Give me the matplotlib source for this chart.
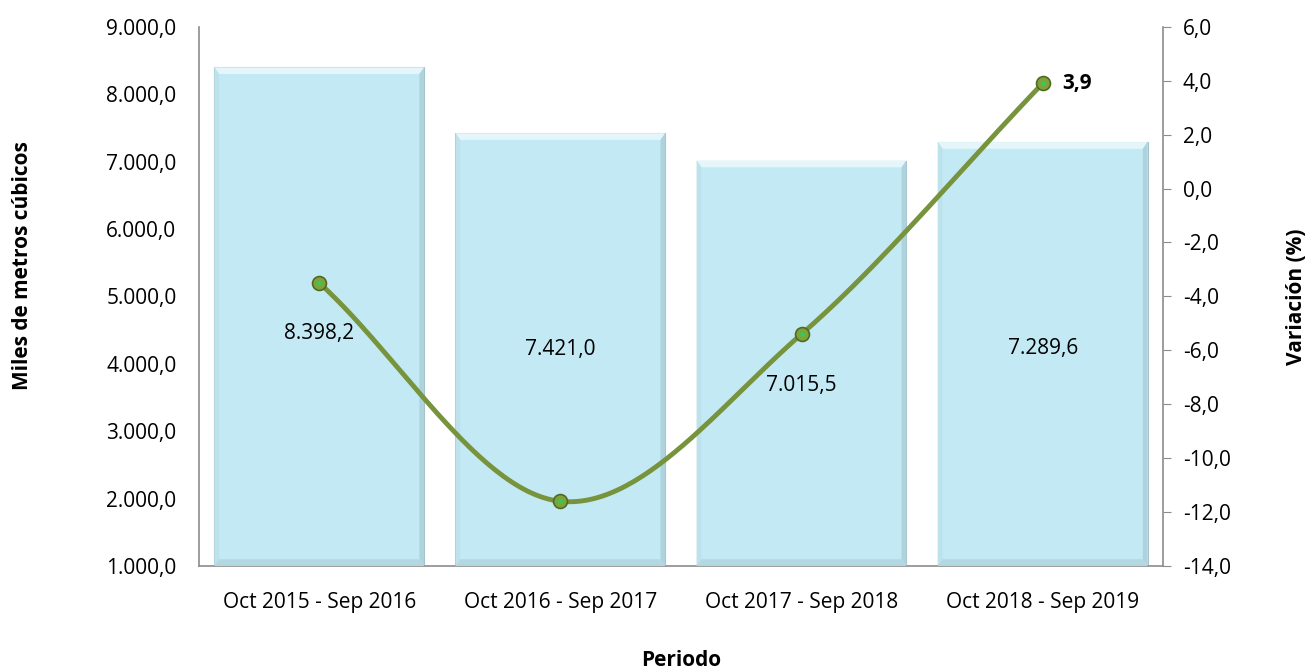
import matplotlib.pyplot as plt
import numpy as np
from matplotlib.patches import Polygon
from matplotlib.ticker import FuncFormatter

periodos = ['Oct 2015 - Sep 2016', 'Oct 2016 - Sep 2017',
            'Oct 2017 - Sep 2018', 'Oct 2018 - Sep 2019']
volumen = [8398.2, 7421.0, 7015.5, 7289.6]
variacion = [-3.5, -11.6, -5.4, 3.9]
etiquetas_vol = ['8.398,2', '7.421,0', '7.015,5', '7.289,6']
etiquetas_var = ['', '', '', '3,9']

plt.rcParams['font.family'] = ['Open Sans', 'DejaVu Sans']
GRIS = '#8c8c8c'
AZUL = '#C3EAF4'
VERDE = '#77933C'
FS = 15


def fmt_es(v, pos=None):
    s = f'{v:,.1f}'
    return s.replace(',', 'X').replace('.', ',').replace('X', '.')


def catmull_rom(x, y, n=60):
    # smooth curve through the points, like Excel's smoothed line
    x = np.asarray(x, float)
    y = np.asarray(y, float)
    px = np.concatenate([[2 * x[0] - x[1]], x, [2 * x[-1] - x[-2]]])
    py = np.concatenate([[2 * y[0] - y[1]], y, [2 * y[-1] - y[-2]]])
    ox, oy = [], []
    for i in range(1, len(px) - 2):
        t = np.linspace(0, 1, n)
        for p, out in ((px, ox), (py, oy)):
            p0, p1, p2, p3 = p[i - 1], p[i], p[i + 1], p[i + 2]
            out.extend(0.5 * ((2 * p1) + (-p0 + p2) * t
                              + (2 * p0 - 5 * p1 + 4 * p2 - p3) * t ** 2
                              + (-p0 + 3 * p1 - 3 * p2 + p3) * t ** 3))
    return np.array(ox), np.array(oy)


fig = plt.figure(figsize=(13.07, 6.69), dpi=100)
ax = fig.add_axes([0.152, 0.154, 0.738, 0.806])
ax2 = ax.twinx()

x = np.arange(len(periodos))
ancho = 0.87
base = 1000
ax.bar(x, np.array(volumen) - base, bottom=base, width=ancho, color=AZUL,
       edgecolor='#a3c2ca', linewidth=0.8, zorder=2)

# bevel edges on each bar
bx = 0.02
by = 100
for xi, v in zip(x, volumen):
    l, r = xi - ancho / 2, xi + ancho / 2
    ax.add_patch(Polygon([[l, v], [r, v], [r - bx, v - by], [l + bx, v - by]],
                         closed=True, color='#e4f6fa', lw=0, zorder=3))
    ax.add_patch(Polygon([[r, v], [r, base], [r - bx, base + by], [r - bx, v - by]],
                         closed=True, color='#afd3dc', lw=0, zorder=3))
    ax.add_patch(Polygon([[l, v], [l, base], [l + bx, base + by], [l + bx, v - by]],
                         closed=True, color='#bde2eb', lw=0, zorder=3))
    ax.add_patch(Polygon([[l, base], [r, base], [r - bx, base + by], [l + bx, base + by]],
                         closed=True, color='#b3d8e2', lw=0, zorder=3))

offs = [-12, 0, -16, 4]
for xi, v, lab, o in zip(x, volumen, etiquetas_vol, offs):
    ax.annotate(lab, (xi, (v + base) / 2), xytext=(0, o), textcoords='offset points',
                ha='center', va='center', fontsize=FS, color='black', zorder=5)

ax.set_ylim(1000, 9000)
ax.set_yticks(np.arange(1000, 9001, 1000))
ax.yaxis.set_major_formatter(FuncFormatter(fmt_es))
ax.set_xlim(-0.5, 3.5)
ax.set_xticks(x)
ax.set_xticklabels(periodos)
ax.tick_params(axis='both', length=0, labelsize=FS)
ax.tick_params(axis='x', pad=19)
ax.tick_params(axis='y', pad=16)
ax.set_ylabel('Miles de metros cúbicos', fontsize=FS, fontweight='bold')
ax.yaxis.set_label_coords(-0.172, 0.557)
ax.set_xlabel('Periodo', fontsize=FS, fontweight='bold')
ax.xaxis.set_label_coords(0.5, -0.156)

sx, sy = catmull_rom(x, variacion)
ax2.plot(sx, sy, color=VERDE, lw=3.5, zorder=4, solid_capstyle='round')
ax2.scatter(x, variacion, s=100, color='#7fa33a', edgecolor='#4f6a22', lw=1.2, zorder=5)
ax2.scatter(x, variacion, s=6, color='#33cc55', zorder=6)
for xi, v, lab in zip(x, variacion, etiquetas_var):
    if lab:
        ax2.annotate(lab, (xi, v), xytext=(14, 0), textcoords='offset points',
                     ha='left', va='center', fontsize=FS, fontweight='bold')

ax2.set_ylim(-14, 6)
ax2.set_yticks(np.arange(-14, 6.1, 2))
ax2.yaxis.set_major_formatter(FuncFormatter(fmt_es))
ax2.tick_params(axis='y', length=6, color=GRIS, labelsize=FS, pad=8)
ax2.set_ylabel('Variación (%)', fontsize=FS, fontweight='bold')
ax2.yaxis.set_label_coords(1.127, 0.5)

for a in (ax, ax2):
    a.spines['top'].set_visible(False)
    for s in ('left', 'right', 'bottom'):
        a.spines[s].set_color(GRIS)
        a.spines[s].set_linewidth(1.2)
ax.spines['right'].set_visible(False)
ax2.spines['left'].set_visible(False)
ax2.spines['bottom'].set_visible(False)

fig.savefig('out.png', dpi=100)
